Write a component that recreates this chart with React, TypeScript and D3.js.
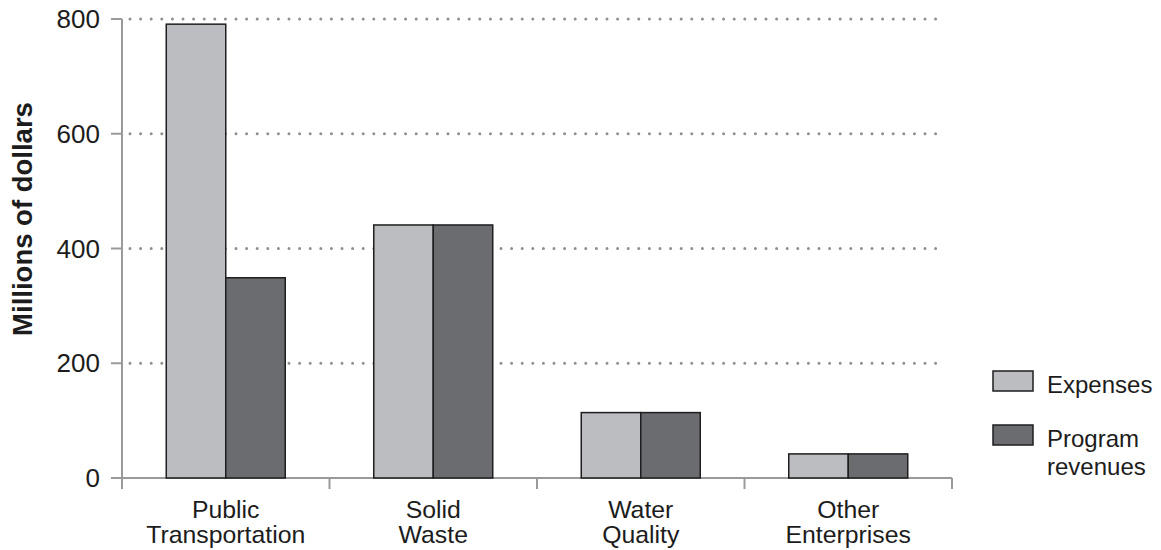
import React from "react";
import * as d3 from "d3";

const categories: string[][] = [
  ["Public", "Transportation"],
  ["Solid", "Waste"],
  ["Water", "Quality"],
  ["Other", "Enterprises"],
];
const seriesNames = ["Expenses", "Program revenues"];
const expenses = [791, 441, 114, 42];
const programRevenues = [349, 441, 114, 42];
const yTicks = [0, 200, 400, 600, 800];

const W = 1161;
const H = 550;
const FONT = "'Liberation Sans', Arial, Helvetica, sans-serif";
const FILLS = ["#bcbdc1", "#6b6c70"];
const AXIS = "#9a9a9a";
const INK = "#1c1c1c";

export default function App() {
  const x0 = 122;
  const x1 = 952;
  const yTop = 19;
  const yBase = 478;

  const keys = categories.map((c) => c.join(" "));
  const x = d3.scaleBand<string>().domain(keys).range([x0, x1]).padding(0);
  const xs = d3
    .scaleBand<string>()
    .domain(seriesNames)
    .range([0, x.bandwidth()])
    .paddingInner(0)
    .paddingOuter(0.744);
  const y = d3.scaleLinear().domain([0, 800]).range([yBase, yTop]);

  const series = [expenses, programRevenues];

  return (
    <svg
      width={W}
      height={H}
      style={{ position: "absolute", left: 0, top: 0, background: "#fff" }}
      fontFamily={FONT}
    >
      {/* dotted gridlines */}
      {yTicks
        .filter((t) => t > 0)
        .map((t) => (
          <line
            key={"g" + t}
            x1={x0 + 8}
            x2={946}
            y1={y(t)}
            y2={y(t)}
            stroke="#8f8f8f"
            strokeWidth={3}
            strokeLinecap="round"
            strokeDasharray="0 10.6"
          />
        ))}

      {/* y axis */}
      <line x1={x0} x2={x0} y1={yTop} y2={yBase + 11} stroke={AXIS} strokeWidth={2} />
      {yTicks.map((t) => (
        <g key={"t" + t}>
          <line x1={x0 - 11} x2={x0} y1={y(t)} y2={y(t)} stroke={AXIS} strokeWidth={2} />
          <text
            x={100}
            y={y(t)}
            dy="0.35em"
            textAnchor="end"
            fontSize={26}
            fill={INK}
          >
            {t}
          </text>
        </g>
      ))}

      {/* x axis */}
      <line x1={x0 - 11} x2={x1} y1={yBase} y2={yBase} stroke={AXIS} strokeWidth={2} />
      {keys.map((k) => (
        <line
          key={"xt" + k}
          x1={(x(k) as number) + x.bandwidth()}
          x2={(x(k) as number) + x.bandwidth()}
          y1={yBase}
          y2={yBase + 11}
          stroke={AXIS}
          strokeWidth={2}
        />
      ))}

      {/* bars */}
      {keys.map((k, i) => (
        <g key={"b" + k} transform={`translate(${x(k)},0)`}>
          {seriesNames.map((s, j) => (
            <rect
              key={s}
              x={xs(s)}
              y={y(series[j][i])}
              width={xs.bandwidth()}
              height={yBase - y(series[j][i])}
              fill={FILLS[j]}
              stroke="#1e1e1e"
              strokeWidth={1.5}
            />
          ))}
        </g>
      ))}

      {/* category labels */}
      {categories.map((lines, i) => (
        <text
          key={"c" + i}
          x={(x(keys[i]) as number) + x.bandwidth() / 2}
          textAnchor="middle"
          fontSize={24.8}
          fill={INK}
        >
          {lines.map((ln, li) => (
            <tspan key={li} x={(x(keys[i]) as number) + x.bandwidth() / 2} y={518 + li * 25}>
              {ln}
            </tspan>
          ))}
        </text>
      ))}

      {/* y axis title */}
      <text
        transform={`translate(32,219) rotate(-90)`}
        textAnchor="middle"
        fontSize={27.5}
        fontWeight="bold"
        fill={INK}
      >
        Millions of dollars
      </text>

      {/* legend */}
      <g>
        <rect x={993} y={371} width={40} height={20} fill={FILLS[0]} stroke="#1e1e1e" strokeWidth={1.5} />
        <text x={1047} y={393} fontSize={24} fill={INK}>
          Expenses
        </text>
        <rect x={993} y={425} width={40} height={20} fill={FILLS[1]} stroke="#1e1e1e" strokeWidth={1.5} />
        <text x={1047} y={447} fontSize={24} fill={INK}>
          <tspan x={1047} y={447}>Program</tspan>
          <tspan x={1047} y={475}>revenues</tspan>
        </text>
      </g>
    </svg>
  );
}
